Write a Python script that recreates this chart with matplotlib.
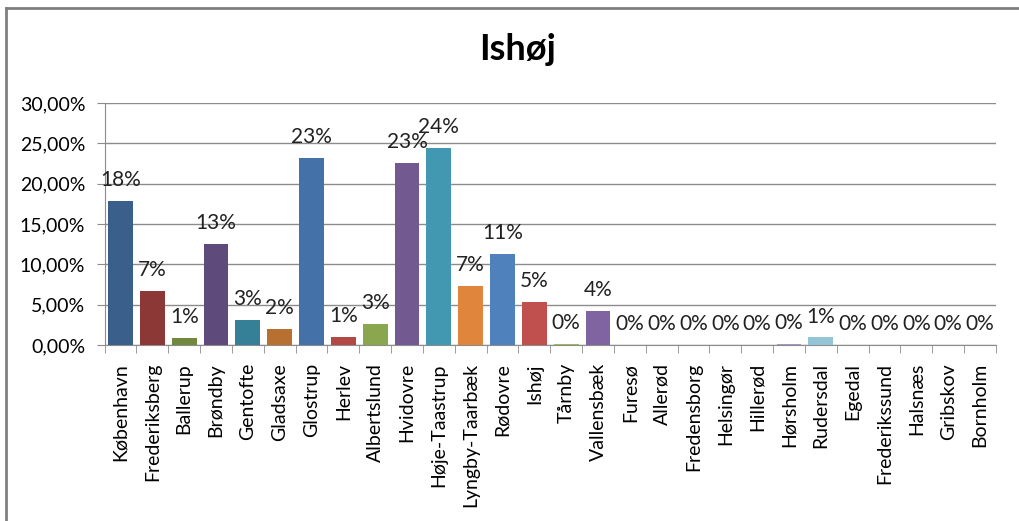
import numpy as np
import matplotlib
matplotlib.use("Agg")
import matplotlib.pyplot as plt
from matplotlib.ticker import FuncFormatter, FixedLocator
from matplotlib.lines import Line2D

plt.rcParams['font.family'] = ['Lato', 'DejaVu Sans']

title = "Ishøj"

kommuner = ["København", "Frederiksberg", "Ballerup", "Brøndby", "Gentofte",
            "Gladsaxe", "Glostrup", "Herlev", "Albertslund", "Hvidovre",
            "Høje-Taastrup", "Lyngby-Taarbæk", "Rødovre", "Ishøj", "Tårnby",
            "Vallensbæk", "Furesø", "Allerød", "Fredensborg", "Helsingør",
            "Hillerød", "Hørsholm", "Rudersdal", "Egedal", "Frederikssund",
            "Halsnæs", "Gribskov", "Bornholm"]

# share in percent
andel = [17.9, 6.7, 0.87, 12.55, 3.1,
         2.0, 23.2, 1.0, 2.65, 22.6,
         24.4, 7.3, 11.3, 5.3, 0.15,
         4.2, 0.0, 0.0, 0.0, 0.0,
         0.0, 0.15, 0.95, 0.0, 0.0,
         0.0, 0.0, 0.0]

farver = ["#3A5F8B", "#8C3836", "#71893F", "#5F4B7B", "#358096",
          "#B86F32", "#4472A8", "#B34845", "#8AA64F", "#72598F",
          "#4298B0", "#E0863C", "#4F81BD", "#C0504D", "#9BBB59",
          "#8064A2", "#4BACC6", "#F79646", "#7F9FCF", "#CF7F7D",
          "#B3CB85", "#A695BE", "#93C5D6", "#F8B382", "#A7BFDE",
          "#DCA7A6", "#CDDDAC", "#BFB2D3"]

yticks = [0, 5, 10, 15, 20, 25, 30]

fig = plt.figure(figsize=(10.2, 5.21), dpi=100)
ax = fig.add_axes([0.1026, 0.3378, 0.8738, 0.4645])

x = np.arange(len(kommuner))
ax.bar(x, andel, width=0.78, color=farver, zorder=3)

for xi, v in zip(x, andel):
    ax.annotate(f"{int(round(v))}%", (xi, v), xytext=(0, 15),
                textcoords="offset points", ha="center", va="center",
                fontsize=15, color="#222222", zorder=4)

ax.set_xlim(-0.5, len(kommuner) - 0.5)
ax.set_ylim(0, 30)
ax.set_yticks(yticks)
ax.yaxis.set_major_formatter(FuncFormatter(lambda v, p: f"{v:.2f}%".replace(".", ",")))
ax.grid(axis="y", color="#8c8c8c", linewidth=1, zorder=0)

ax.set_xticks(x)
ax.set_xticklabels(kommuner, rotation=90, fontsize=14)
ax.tick_params(axis="x", which="major", length=0, pad=13)
ax.xaxis.set_minor_locator(FixedLocator(np.arange(-0.5, len(kommuner), 1)))
ax.tick_params(axis="x", which="minor", length=6, color="#8c8c8c")
ax.tick_params(axis="y", length=6, color="#8c8c8c", labelsize=14, pad=8)

for s in ["top", "right"]:
    ax.spines[s].set_visible(False)
for s in ["left", "bottom"]:
    ax.spines[s].set_color("#8c8c8c")

fig.text(518 / 1020, 1 - 50 / 521, title, ha="center", va="center",
         fontsize=26, fontweight="bold")

# outer chart frame (top and left edges visible)
fig.add_artist(Line2D([6 / 1020, 1.0], [1 - 8 / 521, 1 - 8 / 521],
                      transform=fig.transFigure, color="#808080", linewidth=2))
fig.add_artist(Line2D([6 / 1020, 6 / 1020], [0.0, 1 - 8 / 521],
                      transform=fig.transFigure, color="#808080", linewidth=2))

fig.savefig("out.png", dpi=100)
